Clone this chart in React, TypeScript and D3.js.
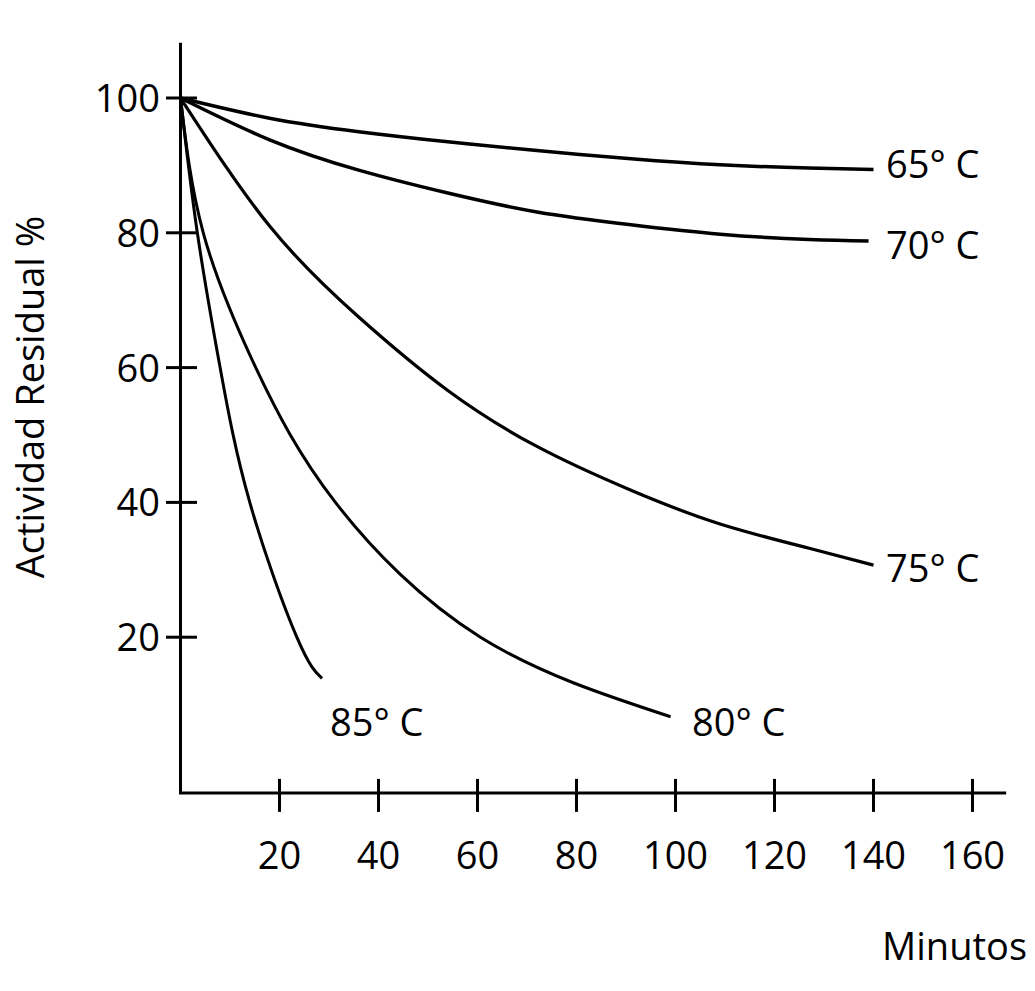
import React, { useEffect, useRef } from 'react';
import * as d3 from 'd3';

// valores (minutos, % actividad residual)
const minutos65 = [0, 18, 36, 54, 72, 91, 109, 127, 140];
const actividad65 = [100, 97.0, 95.0, 93.5, 92.2, 91.0, 90.1, 89.6, 89.4];

const minutos70 = [0, 18, 36, 54, 72, 91, 109, 127, 139];
const actividad70 = [100, 93.8, 89.3, 85.9, 83.1, 81.2, 79.8, 79.0, 78.8];

const minutos75 = [0, 18, 36, 54, 72, 91, 109, 127, 140];
const actividad75 = [100, 81.0, 67.5, 56.6, 48.3, 41.8, 36.8, 33.2, 30.7];

const minutos80 = [0, 4.6, 15.2, 31.3, 60.6, 99];
const actividad80 = [100, 80, 60, 40, 20, 8.2];

const minutos85 = [0, 3.4, 8.0, 14.0, 23.5, 28.6];
const actividad85 = [100, 80, 60, 40, 20, 13.9];

const xTicks = [20, 40, 60, 80, 100, 120, 140, 160];
const yTicks = [20, 40, 60, 80, 100];

const series = [
  { label: '65° C', x: minutos65, y: actividad65, width: 3.5 },
  { label: '70° C', x: minutos70, y: actividad70, width: 3.5 },
  { label: '75° C', x: minutos75, y: actividad75, width: 3.2 },
  { label: '80° C', x: minutos80, y: actividad80, width: 3 },
  { label: '85° C', x: minutos85, y: actividad85, width: 3 }
];

const App = () => {
  const ref = useRef(null);

  useEffect(() => {
    const svg = d3.select(ref.current);
    svg.selectAll('*').remove();

    const x = d3.scaleLinear().domain([0, 160]).range([180.5, 972.5]);
    const y = d3.scaleLinear().domain([0, 100]).range([772, 98]);
    const font = "'Open Sans', 'Noto Sans', sans-serif";

    // ejes
    svg
      .append('line')
      .attr('x1', x(0))
      .attr('x2', x(0))
      .attr('y1', y(108.2))
      .attr('y2', y(-3.2))
      .attr('stroke', '#000')
      .attr('stroke-width', 3);
    svg
      .append('line')
      .attr('x1', x(0) - 1.5)
      .attr('x2', x(166.8))
      .attr('y1', y(-3.1))
      .attr('y2', y(-3.1))
      .attr('stroke', '#000')
      .attr('stroke-width', 3);

    const xAxisY = y(-3.1);
    svg
      .selectAll('line.xtick')
      .data(xTicks)
      .enter()
      .append('line')
      .attr('class', 'xtick')
      .attr('x1', d => x(d))
      .attr('x2', d => x(d))
      .attr('y1', xAxisY - 14)
      .attr('y2', xAxisY + 19)
      .attr('stroke', '#000')
      .attr('stroke-width', 3);
    svg
      .selectAll('text.xlabel')
      .data(xTicks)
      .enter()
      .append('text')
      .attr('class', 'xlabel')
      .attr('x', d => x(d))
      .attr('y', 869)
      .attr('text-anchor', 'middle')
      .style('font-family', font)
      .style('font-size', '38px')
      .text(d => d);

    svg
      .selectAll('line.ytick')
      .data(yTicks)
      .enter()
      .append('line')
      .attr('class', 'ytick')
      .attr('x1', 166)
      .attr('x2', 197)
      .attr('y1', d => y(d))
      .attr('y2', d => y(d))
      .attr('stroke', '#000')
      .attr('stroke-width', 3);
    svg
      .selectAll('text.ylabel')
      .data(yTicks)
      .enter()
      .append('text')
      .attr('class', 'ylabel')
      .attr('x', 160)
      .attr('y', d => y(d) + 14)
      .attr('text-anchor', 'end')
      .style('font-family', font)
      .style('font-size', '38px')
      .text(d => d);

    // curvas
    const line = d3
      .line()
      .x(d => x(d[0]))
      .y(d => y(d[1]))
      .curve(d3.curveNatural);

    svg
      .selectAll('path.curva')
      .data(series)
      .enter()
      .append('path')
      .attr('class', 'curva')
      .attr('d', s => line(s.x.map((v, i) => [v, s.y[i]])))
      .attr('fill', 'none')
      .attr('stroke', '#000')
      .attr('stroke-width', s => s.width);

    const labelPos = [
      [886, 178],
      [886, 259],
      [886, 582],
      [692, 736],
      [330, 736]
    ];
    svg
      .selectAll('text.serie')
      .data(series)
      .enter()
      .append('text')
      .attr('class', 'serie')
      .attr('x', (s, i) => labelPos[i][0])
      .attr('y', (s, i) => labelPos[i][1])
      .style('font-family', font)
      .style('font-size', '38px')
      .text(s => s.label);

    svg
      .append('text')
      .attr('x', 1027)
      .attr('y', 960)
      .attr('text-anchor', 'end')
      .style('font-family', font)
      .style('font-size', '38px')
      .text('Minutos');

    svg
      .append('text')
      .attr('transform', 'translate(44 397) rotate(-90)')
      .attr('text-anchor', 'middle')
      .style('font-family', font)
      .style('font-size', '38px')
      .text('Actividad Residual %');
  }, []);

  return (
    <svg
      ref={ref}
      width={1035}
      height={991}
      style={{ position: 'absolute', left: 0, top: 0, background: '#fff' }}
    />
  );
};

export default App;
